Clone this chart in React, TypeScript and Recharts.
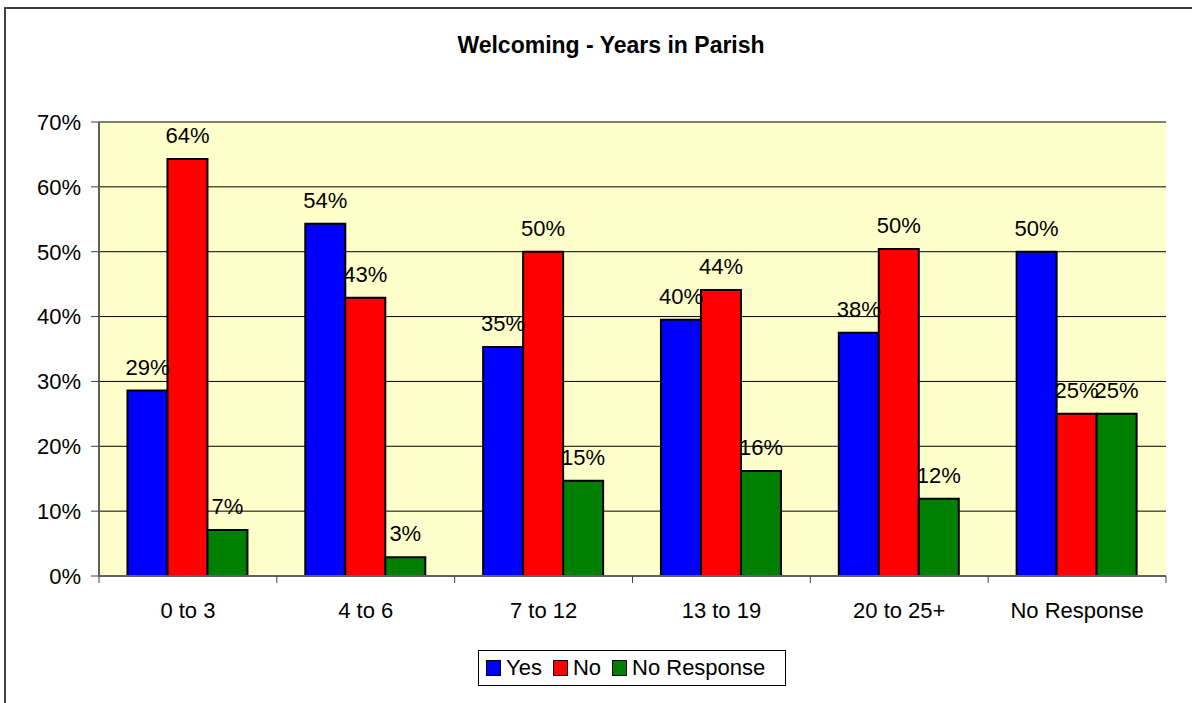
import { BarChart, Bar, XAxis, YAxis, CartesianGrid, Legend, LabelList } from 'recharts'

const categories = ['0 to 3', '4 to 6', '7 to 12', '13 to 19', '20 to 25+', 'No Response']
const yesValues = [28.6, 54.3, 35.3, 39.5, 37.5, 50]
const noValues = [64.3, 42.9, 50, 44.1, 50.4, 25]
const noResponseValues = [7.1, 2.9, 14.7, 16.2, 11.9, 25]
const yTicks = [0, 10, 20, 30, 40, 50, 60, 70]

const series = [
  { key: 'yes', name: 'Yes', color: '#0000FF' },
  { key: 'no', name: 'No', color: '#FF0000' },
  { key: 'noResponse', name: 'No Response', color: '#008000' },
]

const data = categories.map((name, i) => ({
  name,
  yes: yesValues[i],
  no: noValues[i],
  noResponse: noResponseValues[i],
}))

const FONT = '"Liberation Sans", Arial, sans-serif'
const WIDTH = 1192
const HEIGHT = 703
const MARGIN = { top: 122, right: 26, bottom: 17, left: 0 }
const Y_AXIS_WIDTH = 99
const BAND = (WIDTH - MARGIN.left - MARGIN.right - Y_AXIS_WIDTH) / categories.length

// category label + tick marks on the category boundaries (Excel style)
function CategoryTick(props: any) {
  const { x, y, payload, index } = props
  const left = x - BAND / 2
  const right = x + BAND / 2
  return (
    <g>
      <line x1={left} y1={y} x2={left} y2={y + 7} stroke="#404040" strokeWidth={1} />
      {index === categories.length - 1 && (
        <line x1={right} y1={y} x2={right} y2={y + 7} stroke="#404040" strokeWidth={1} />
      )}
      <text x={x} y={y + 42} textAnchor="middle" fontSize={22} fontFamily={FONT} fill="#000">
        {payload.value}
      </text>
    </g>
  )
}

function LegendBox() {
  return (
    <div
      style={{
        boxSizing: 'border-box',
        width: 308,
        height: 36,
        border: '1px solid #000',
        background: '#fff',
        display: 'flex',
        alignItems: 'center',
        paddingLeft: 7,
        fontFamily: FONT,
        fontSize: 22,
        color: '#000',
      }}
    >
      {series.map((s) => (
        <div key={s.key} style={{ display: 'flex', alignItems: 'center', marginRight: 11 }}>
          <span
            style={{
              display: 'inline-block',
              boxSizing: 'border-box',
              width: 15,
              height: 16,
              background: s.color,
              border: '1.5px solid #000',
              marginRight: 5,
            }}
          />
          <span style={{ lineHeight: '22px' }}>{s.name}</span>
        </div>
      ))}
    </div>
  )
}

export default function App() {
  return (
    <div style={{ position: 'relative', width: WIDTH, height: HEIGHT, overflow: 'hidden', background: '#fff' }}>
      <style>{`body{margin:0}`}</style>
      <div
        style={{
          position: 'absolute',
          left: 4,
          top: 7,
          width: WIDTH + 20,
          height: HEIGHT + 20,
          border: '2px solid #404040',
        }}
      />
      <div
        style={{
          position: 'absolute',
          left: 0,
          top: 32,
          width: 1222,
          textAlign: 'center',
          fontFamily: FONT,
          fontSize: 23,
          fontWeight: 'bold',
          lineHeight: '26px',
          color: '#000',
        }}
      >
        Welcoming - Years in Parish
      </div>
      <div style={{ position: 'absolute', left: 0, top: 0 }}>
        <BarChart
          width={WIDTH}
          height={HEIGHT}
          data={data}
          margin={MARGIN}
          barCategoryGap="16%"
          barGap={0}
        >
          <CartesianGrid horizontal vertical={false} stroke="#000" strokeWidth={1} fill="#FFFFCC" />
          <XAxis
            dataKey="name"
            height={74}
            axisLine={{ stroke: '#606060', strokeWidth: 2 }}
            tickLine={false}
            tickSize={0}
            tickMargin={0}
            interval={0}
            tick={<CategoryTick />}
          />
          <XAxis xAxisId="top" orientation="top" dataKey="name" height={0} tick={false} tickLine={false} axisLine={{ stroke: '#808080', strokeWidth: 2 }} />
          <YAxis
            domain={[0, 70]}
            ticks={yTicks}
            width={Y_AXIS_WIDTH}
            tickFormatter={(v: number) => `${v}%`}
            tick={{ fontSize: 22, fontFamily: FONT, fill: '#000' }}
            tickSize={8}
            tickMargin={10}
            tickLine={{ stroke: '#404040' }}
            axisLine={{ stroke: '#606060', strokeWidth: 2 }}
            interval={0}
          />
          <YAxis yAxisId="right" orientation="right" width={0} tick={false} tickLine={false} axisLine={{ stroke: '#808080', strokeWidth: 2 }} />
          <Legend
            verticalAlign="bottom"
            content={() => <LegendBox />}
            wrapperStyle={{ left: 478, width: 308, height: 36, bottom: 17 }}
          />
          {series.map((s) => (
            <Bar
              key={s.key}
              dataKey={s.key}
              name={s.name}
              fill={s.color}
              stroke="#000"
              strokeWidth={2}
              isAnimationActive={false}
            >
              <LabelList
                dataKey={s.key}
                position="top"
                offset={16}
                formatter={(v: any) => `${Math.round(Number(v))}%`}
                style={{ fontSize: 22, fontFamily: FONT, fill: '#000' }}
              />
            </Bar>
          ))}
        </BarChart>
      </div>
    </div>
  )
}
